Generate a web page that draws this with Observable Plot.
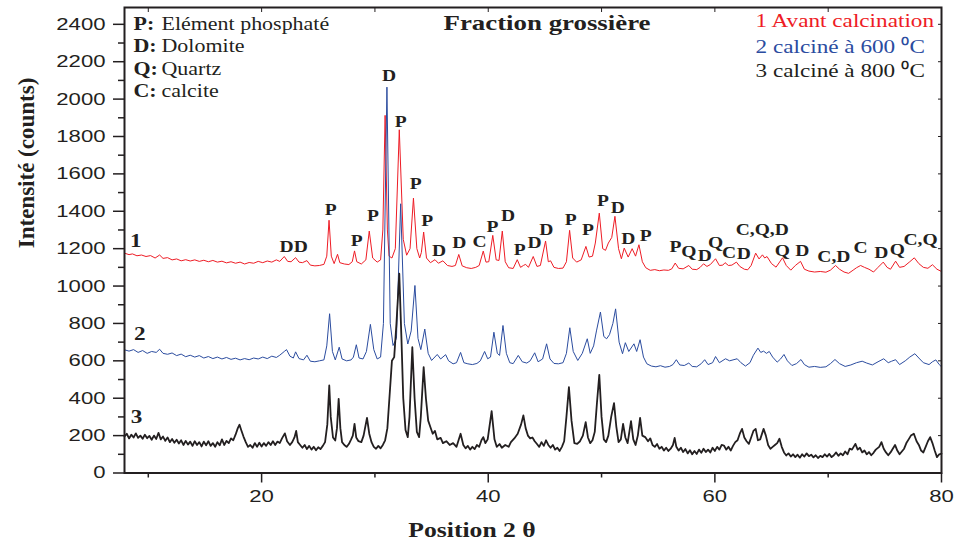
<!DOCTYPE html>
<html>
<head>
<meta charset="utf-8">
<script src="https://cdn.jsdelivr.net/npm/d3@7"></script>
<script src="https://cdn.jsdelivr.net/npm/@observablehq/plot@0.6"></script>
<style>
  html, body { margin: 0; padding: 0; background: #fff; }
</style>
</head>
<body>
<div id="chart"></div>
<script>
// ---------- DATA ----------
const seriesNames = ["1 Avant calcination", "2 calciné à 600 ⁰C", "3 calciné à 800 ⁰C"];
const seriesNumbers = ["1", "2", "3"];

// Series 1 : avant calcination  [2θ, intensité]
const serie1 = [
[7.9,1176],[8.3,1168],[8.6,1172],[9.0,1162],[9.4,1166],[9.8,1158],[10.2,1163],[10.6,1150],[11.0,1166],[11.3,1148],
[11.7,1152],[12.1,1140],[12.5,1145],[12.9,1135],[13.3,1141],[13.7,1134],[14.1,1140],[14.5,1132],[14.9,1138],[15.3,1130],
[15.7,1137],[16.1,1128],[16.5,1133],[16.9,1124],[17.3,1130],[17.7,1122],[18.1,1128],[18.5,1118],[18.9,1126],[19.3,1122],
[19.7,1132],[20.1,1125],[20.5,1134],[20.9,1128],[21.3,1140],[21.6,1132],[22.0,1158],[22.3,1132],[22.6,1130],[23.0,1152],
[23.3,1128],[23.6,1125],[24.0,1136],[24.3,1112],[24.7,1108],[25.1,1110],[25.5,1116],[25.75,1160],[25.95,1352],[26.15,1160],
[26.4,1120],[26.7,1170],[26.9,1125],[27.3,1118],[27.7,1115],[28.0,1130],[28.2,1188],[28.4,1130],[28.8,1118],[29.2,1140],
[29.5,1294],[29.8,1150],[30.2,1128],[30.5,1140],[30.7,1300],[30.9,1913],[31.1,1300],[31.25,1160],[31.5,1150],[31.8,1200],
[32.15,1836],[32.5,1250],[32.8,1165],[33.1,1200],[33.4,1470],[33.7,1200],[33.95,1150],[34.1,1180],[34.3,1289],[34.55,1150],
[34.9,1125],[35.3,1141],[35.6,1122],[36.0,1135],[36.4,1110],[36.8,1105],[37.1,1110],[37.4,1169],[37.7,1108],[38.1,1098],
[38.5,1094],[38.9,1100],[39.2,1110],[39.56,1187],[39.8,1128],[40.05,1130],[40.4,1271],[40.7,1140],[40.95,1137],[41.24,1294],
[41.5,1130],[41.8,1098],[42.2,1094],[42.56,1141],[42.85,1100],[43.1,1110],[43.3,1116],[43.55,1100],[43.97,1158],[44.3,1105],
[44.6,1110],[45.06,1241],[45.3,1130],[45.5,1135],[45.8,1100],[46.2,1094],[46.6,1096],[46.9,1130],[47.18,1298],[47.45,1150],
[47.8,1128],[48.2,1140],[48.62,1212],[48.9,1155],[49.2,1160],[49.45,1230],[49.8,1390],[50.1,1200],[50.35,1191],[50.6,1230],
[50.9,1260],[51.18,1373],[51.5,1200],[51.75,1146],[52.0,1203],[52.35,1155],[52.7,1200],[53.0,1160],[53.3,1221],[53.6,1130],
[53.9,1098],[54.3,1084],[54.7,1088],[55.1,1082],[55.5,1086],[55.9,1084],[56.2,1092],[56.5,1123],[56.8,1095],[57.2,1092],
[57.7,1110],[58.0,1090],[58.4,1088],[58.7,1100],[59.0,1119],[59.3,1105],[59.6,1115],[60.06,1146],[60.4,1110],[60.7,1112],
[60.9,1125],[61.2,1110],[61.5,1112],[61.9,1128],[62.2,1105],[62.6,1090],[62.9,1087],[63.2,1110],[63.6,1176],[63.9,1145],
[64.2,1167],[64.4,1150],[64.6,1158],[65.0,1120],[65.4,1101],[65.97,1151],[66.3,1110],[66.7,1085],[67.1,1110],[67.56,1132],
[67.9,1090],[68.3,1080],[68.8,1075],[69.3,1078],[69.8,1074],[70.2,1085],[70.65,1110],[71.0,1090],[71.4,1075],[71.8,1068],
[72.2,1085],[72.5,1098],[72.86,1110],[73.2,1100],[73.6,1090],[74.0,1075],[74.4,1100],[74.86,1128],[75.2,1100],[75.5,1090],
[75.95,1133],[76.3,1100],[76.7,1105],[77.2,1130],[77.6,1151],[78.0,1120],[78.4,1100],[78.8,1095],[79.2,1114],[79.6,1090],
[80.0,1078]
];

// Series 2 : calciné à 600 °C
const serie2 = [
[7.9,659],[8.3,652],[8.7,660],[9.1,645],[9.5,655],[9.9,640],[10.3,650],[10.7,645],[11.0,662],[11.3,640],
[11.7,635],[12.1,642],[12.5,628],[12.9,636],[13.3,622],[13.7,630],[14.1,620],[14.5,628],[14.9,615],[15.3,623],
[15.7,612],[16.1,620],[16.5,610],[16.9,618],[17.3,608],[17.7,614],[18.1,605],[18.5,612],[18.9,606],[19.3,615],
[19.7,610],[20.1,620],[20.5,612],[20.9,625],[21.3,618],[21.6,630],[22.0,650],[22.2,660],[22.5,625],[22.8,615],
[23.0,648],[23.3,612],[23.7,605],[24.0,630],[24.3,598],[24.7,595],[25.1,600],[25.5,605],[25.75,680],[26.0,852],
[26.25,650],[26.5,605],[26.85,673],[27.1,610],[27.5,600],[27.9,605],[28.1,620],[28.36,686],[28.6,615],[28.95,610],
[29.25,650],[29.6,795],[29.9,660],[30.2,610],[30.5,620],[30.75,800],[31.06,2064],[31.35,800],[31.6,682],[31.9,720],
[32.27,1440],[32.6,800],[32.9,690],[33.2,760],[33.53,1003],[33.8,720],[34.05,660],[34.4,770],[34.7,640],[35.0,602],
[35.5,634],[35.8,610],[36.24,633],[36.5,600],[36.9,584],[37.2,590],[37.56,645],[37.85,590],[38.2,584],[38.6,580],
[39.0,586],[39.3,600],[39.68,650],[39.95,611],[40.2,620],[40.5,753],[40.8,640],[41.0,629],[41.3,789],[41.6,640],
[41.9,590],[42.2,585],[42.65,629],[43.0,595],[43.4,588],[43.7,600],[44.1,643],[44.4,595],[44.8,610],[45.15,691],
[45.45,610],[45.8,586],[46.2,584],[46.6,590],[46.9,640],[47.2,777],[47.5,650],[47.9,602],[48.3,640],[48.74,718],
[49.0,640],[49.3,680],[49.55,760],[49.9,861],[50.2,730],[50.45,718],[50.7,740],[51.0,800],[51.24,878],[51.55,700],
[51.85,638],[52.1,697],[52.4,650],[52.86,691],[53.1,650],[53.4,713],[53.7,620],[54.0,584],[54.4,572],[54.8,568],
[55.2,574],[55.6,566],[56.0,570],[56.3,580],[56.6,606],[56.9,578],[57.3,575],[57.7,588],[58.0,570],[58.4,568],
[58.8,585],[59.1,606],[59.4,580],[59.8,590],[60.06,623],[60.4,590],[60.94,611],[61.3,600],[61.6,605],[61.97,611],
[62.3,590],[62.7,572],[63.1,590],[63.4,630],[63.8,668],[64.05,645],[64.3,652],[64.55,640],[64.8,650],[65.1,620],
[65.5,593],[65.8,610],[66.1,634],[66.4,600],[66.8,575],[67.2,585],[67.6,607],[67.9,580],[68.3,566],[68.8,570],
[69.3,565],[69.8,568],[70.2,585],[70.6,607],[71.0,585],[71.5,570],[72.0,578],[72.5,590],[73.0,598],[73.4,588],
[73.9,578],[74.4,595],[74.9,611],[75.3,590],[75.6,598],[75.95,606],[76.3,580],[76.8,600],[77.2,620],[77.65,638],
[78.0,615],[78.4,590],[78.9,580],[79.2,595],[79.5,605],[79.8,580],[80.0,568]
];

// Series 3 : calciné à 800 °C
const serie3 = [
[7.9,195],[8.1,210],[8.3,185],[8.5,205],[8.7,190],[8.9,212],[9.1,188],[9.3,200],[9.5,183],[9.7,205],
[9.9,186],[10.1,198],[10.3,178],[10.5,200],[10.7,182],[10.9,215],[11.1,180],[11.3,195],[11.5,172],[11.7,190],
[11.9,165],[12.1,182],[12.3,162],[12.5,178],[12.7,158],[12.9,175],[13.1,150],[13.3,172],[13.5,152],[13.7,168],
[13.9,145],[14.1,170],[14.3,150],[14.5,165],[14.7,142],[14.9,168],[15.1,148],[15.3,170],[15.5,145],[15.7,160],
[15.9,140],[16.1,165],[16.3,148],[16.5,180],[16.7,150],[16.9,172],[17.1,160],[17.3,185],[17.5,175],[17.7,205],
[17.9,240],[18.05,258],[18.2,230],[18.4,195],[18.6,165],[18.8,140],[19.0,150],[19.2,135],[19.4,160],[19.6,140],
[19.8,162],[20.0,142],[20.2,160],[20.4,145],[20.6,165],[20.8,150],[21.0,170],[21.2,150],[21.4,168],[21.6,160],
[21.8,185],[22.05,212],[22.25,170],[22.5,150],[22.7,165],[22.9,190],[23.05,225],[23.2,165],[23.4,150],[23.6,135],
[23.8,150],[24.0,128],[24.2,145],[24.4,125],[24.6,140],[24.8,122],[25.0,138],[25.2,128],[25.4,145],[25.6,165],
[25.8,260],[25.97,468],[26.1,300],[26.3,190],[26.5,174],[26.65,240],[26.8,397],[26.95,240],[27.1,165],[27.3,150],
[27.5,140],[27.7,155],[27.9,180],[28.05,200],[28.2,263],[28.35,190],[28.55,170],[28.8,165],[29.0,200],[29.3,295],
[29.5,210],[29.7,165],[29.9,140],[30.1,130],[30.3,145],[30.5,132],[30.7,150],[30.9,175],[31.1,240],[31.3,420],
[31.5,600],[31.7,620],[31.9,800],[32.15,1066],[32.35,700],[32.5,400],[32.7,230],[32.9,192],[33.05,300],[33.3,673],
[33.5,400],[33.7,220],[33.9,192],[34.05,300],[34.3,566],[34.5,400],[34.7,280],[34.9,245],[35.1,210],[35.3,225],
[35.5,180],[35.8,188],[36.0,160],[36.3,170],[36.6,150],[36.9,160],[37.2,140],[37.56,210],[37.8,150],[38.0,132],
[38.2,145],[38.4,125],[38.6,140],[38.8,128],[39.0,150],[39.2,140],[39.4,175],[39.56,192],[39.75,160],[39.95,180],
[40.3,331],[40.55,180],[40.75,140],[41.0,155],[41.2,135],[41.5,150],[41.8,140],[42.0,165],[42.3,185],[42.6,210],
[42.9,260],[43.1,308],[43.3,240],[43.5,200],[43.7,185],[43.9,190],[44.1,170],[44.3,155],[44.5,140],[44.7,165],
[44.9,145],[45.1,175],[45.3,150],[45.5,135],[45.7,150],[45.9,125],[46.1,135],[46.3,118],[46.5,140],[46.7,170],
[46.9,300],[47.12,459],[47.35,280],[47.6,160],[47.85,156],[48.1,170],[48.35,200],[48.6,272],[48.8,190],[49.0,160],
[49.2,175],[49.4,220],[49.6,380],[49.8,525],[50.0,300],[50.2,180],[50.4,165],[50.6,200],[50.85,300],[51.1,374],
[51.3,250],[51.5,165],[51.7,180],[51.9,263],[52.1,190],[52.3,160],[52.6,277],[52.8,180],[53.0,150],[53.2,200],
[53.4,295],[53.6,200],[53.85,192],[54.1,170],[54.3,185],[54.5,150],[54.7,140],[54.9,155],[55.1,130],[55.3,140],
[55.5,120],[55.7,135],[55.9,118],[56.1,130],[56.3,150],[56.45,188],[56.6,140],[56.8,120],[57.0,135],[57.2,112],
[57.4,128],[57.6,105],[57.8,122],[58.0,100],[58.2,118],[58.4,102],[58.6,125],[58.8,108],[59.0,130],[59.2,112],
[59.4,125],[59.6,110],[59.8,135],[60.0,118],[60.2,140],[60.4,125],[60.6,150],[60.8,147],[61.0,125],[61.2,140],
[61.4,120],[61.6,145],[61.8,165],[62.0,175],[62.2,210],[62.4,236],[62.6,190],[62.8,170],[63.0,156],[63.2,190],
[63.4,225],[63.6,236],[63.8,175],[64.0,180],[64.3,236],[64.5,200],[64.7,150],[64.9,129],[65.1,140],[65.3,150],
[65.5,160],[65.7,183],[65.9,140],[66.1,110],[66.3,94],[66.5,105],[66.7,88],[66.9,100],[67.1,85],[67.3,98],
[67.5,82],[67.7,100],[67.9,88],[68.1,105],[68.3,90],[68.5,98],[68.7,84],[68.9,95],[69.1,80],[69.3,92],
[69.5,85],[69.7,100],[69.9,88],[70.1,102],[70.3,85],[70.5,95],[70.7,110],[70.9,92],[71.1,105],[71.3,95],
[71.5,115],[71.7,100],[71.9,130],[72.1,125],[72.4,156],[72.6,125],[72.8,135],[73.0,110],[73.2,120],[73.4,100],
[73.6,112],[73.8,95],[74.0,108],[74.2,125],[74.5,140],[74.7,165],[74.9,130],[75.1,110],[75.3,95],[75.5,110],
[75.7,130],[75.9,150],[76.1,120],[76.3,100],[76.5,115],[76.7,130],[76.9,160],[77.1,180],[77.3,200],[77.56,210],
[77.8,170],[78.0,150],[78.2,120],[78.4,110],[78.6,140],[78.8,170],[79.0,192],[79.2,160],[79.4,120],[79.6,85],
[79.8,100],[80.0,103]
];

// Peak annotations (phase letter, 2θ, intensity)
const peakText = ["DD","P","P","P","D","P","P","P","D","D","C","P","D","P","D","D","P","P","P","D","D","P",
  "P","Q","D","Q","C","D","C,Q,D","Q","D","C,D","C","D","Q","C,Q"];
const peakTheta = [22.83,26.09,28.39,29.82,31.24,32.27,33.59,34.62,35.65,37.45,39.24,40.36,41.74,42.77,44.09,45.12,47.27,48.79,50.12,51.44,52.36,53.89,
  56.53,57.71,59.12,60.06,61.24,62.56,64.18,65.95,67.71,70.5,72.86,74.69,76.1,78.15];
const peakIntensity = [1207,1408,1244,1378,2122,1877,1544,1351,1187,1230,1235,1319,1373,1194,1230,1301,1356,1301,1453,1417,1253,1266,
  1208,1182,1164,1230,1176,1173,1301,1187,1187,1158,1205,1176,1194,1248];

// Series number labels (near the start of each trace)
const numTheta = [8.89, 9.24, 8.97];
const numIntensity = [1208, 709, 266];

// Phase legend
const phaseKeys = ["P:", "D:", "Q:", "C:"];
const phaseNames = ["Elément phosphaté", "Dolomite", "Quartz", "calcite"];

// Axis ticks
const xTicks = [20, 40, 60, 80];
const xMinorTicks = [10, 30, 50, 70];
const xTopTicks = [10, 20, 30, 40, 50, 60, 70];
const yTicks = [0, 200, 400, 600, 800, 1000, 1200, 1400, 1600, 1800, 2000, 2200, 2400];
const yMinorTicks = [100, 300, 500, 700, 900, 1100, 1300, 1500, 1700, 1900, 2100, 2300];

// ---------- STYLE ----------
const colors = ["#ee1c25", "#2b4c9f", "#231f20"];
const widths = [1, 1, 1.8];
const serif = "Liberation Serif, Times New Roman, serif";
const sans = "Liberation Sans, Arial, sans-serif";
const ink = "#231f20";

const series = [serie1, serie2, serie3];
const peaks = peakText.map((t, i) => ({t, x: peakTheta[i], y: peakIntensity[i]}));
const nums = seriesNumbers.map((t, i) => ({t, x: numTheta[i], y: numIntensity[i]}));
const plain = d => String(d);

const marks = [];
series.forEach((s, i) => {
  marks.push(Plot.line(s, {x: d => d[0], y: d => d[1], stroke: colors[i], strokeWidth: widths[i], strokeLinejoin: "round"}));
});
marks.push(
  Plot.axisY({ticks: yTicks, tickFormat: plain, tickSize: 11, tickPadding: 8, fontSize: 17, fontFamily: sans, strokeWidth: 1.5, label: null}),
  Plot.axisY({ticks: yMinorTicks, tickSize: 6, text: null, strokeWidth: 1.5, label: null}),
  Plot.axisY({anchor: "right", ticks: yTicks, tickSize: 4, text: null, dx: -4, strokeWidth: 1, label: null}),
  Plot.axisX({ticks: xTicks, tickFormat: plain, tickSize: 10, tickPadding: 7, fontSize: 17, fontFamily: sans, strokeWidth: 1.5, label: null}),
  Plot.axisX({ticks: xMinorTicks, tickSize: 5, text: null, strokeWidth: 1.5, label: null}),
  Plot.axisX({anchor: "top", ticks: xTopTicks, tickSize: 4, text: null, dy: 4, strokeWidth: 1, label: null}),
  Plot.frame({stroke: ink, strokeWidth: 2}),
  // peak letters
  Plot.text(peaks, {x: "x", y: "y", text: "t", fontFamily: serif, fontWeight: "bold", fontSize: 16, fill: ink, lineAnchor: "middle"}),
  // series numbers
  Plot.text(nums, {x: "x", y: "y", text: "t", fontFamily: serif, fontWeight: "bold", fontSize: 19, fill: ink, lineAnchor: "bottom"}),
  // title
  Plot.text(["Fraction grossière"], {frameAnchor: "top", dx: 14, dy: 22, lineAnchor: "bottom", fontFamily: serif, fontWeight: "bold", fontSize: 22, fill: ink}),
  // axis titles
  Plot.text(["Position 2 θ"], {frameAnchor: "bottom", dx: -61, dy: 64, lineAnchor: "bottom", fontFamily: serif, fontWeight: "bold", fontSize: 21, fill: ink}),
  Plot.text(["Intensité (counts)"], {frameAnchor: "left", rotate: -90, dx: -91, dy: 8, lineAnchor: "bottom", fontFamily: serif, fontWeight: "bold", fontSize: 23, fill: ink})
);
phaseKeys.forEach((k, i) => {
  marks.push(Plot.text([k], {frameAnchor: "top-left", textAnchor: "start", lineAnchor: "bottom", dx: 9, dy: 22.3 + 22.5 * i, fontFamily: serif, fontWeight: "bold", fontSize: 18, fill: ink}));
  marks.push(Plot.text([phaseNames[i]], {frameAnchor: "top-left", textAnchor: "start", lineAnchor: "bottom", dx: 37, dy: 22.3 + 22.5 * i, fontFamily: serif, fontSize: 18, fill: ink}));
});
const legendDy = [19, 45.7, 69.7];
seriesNames.forEach((n, i) => {
  marks.push(Plot.text([n], {frameAnchor: "top-right", textAnchor: "start", lineAnchor: "bottom", dx: -186, dy: legendDy[i], fontFamily: serif, fontSize: 19, fill: colors[i]}));
});

const chart = Plot.plot({
  width: 958,
  height: 545,
  marginLeft: 124,
  marginRight: 17,
  marginTop: 7,
  marginBottom: 72.5,
  style: {fontFamily: sans, fontSize: "17px", color: ink, background: "#fff"},
  x: {domain: [7.9, 80], axis: null},
  y: {domain: [0, 2490], axis: null},
  marks
});
document.getElementById("chart").append(chart);

// The reference's lettering is horizontally widened; reproduce that.
chart.querySelectorAll("text").forEach(t => {
  const tr = t.getAttribute("transform") || "";
  if (tr.includes("rotate")) return;
  const g = t.closest("[aria-label]");
  const isTick = g && /tick label/.test(g.getAttribute("aria-label"));
  const k = isTick ? 1.3 : 1.22;
  const len = t.getComputedTextLength();
  if (len > 0) {
    t.setAttribute("textLength", (len * k).toFixed(1));
    t.setAttribute("lengthAdjust", "spacingAndGlyphs");
  }
});
</script>
</body>
</html>
